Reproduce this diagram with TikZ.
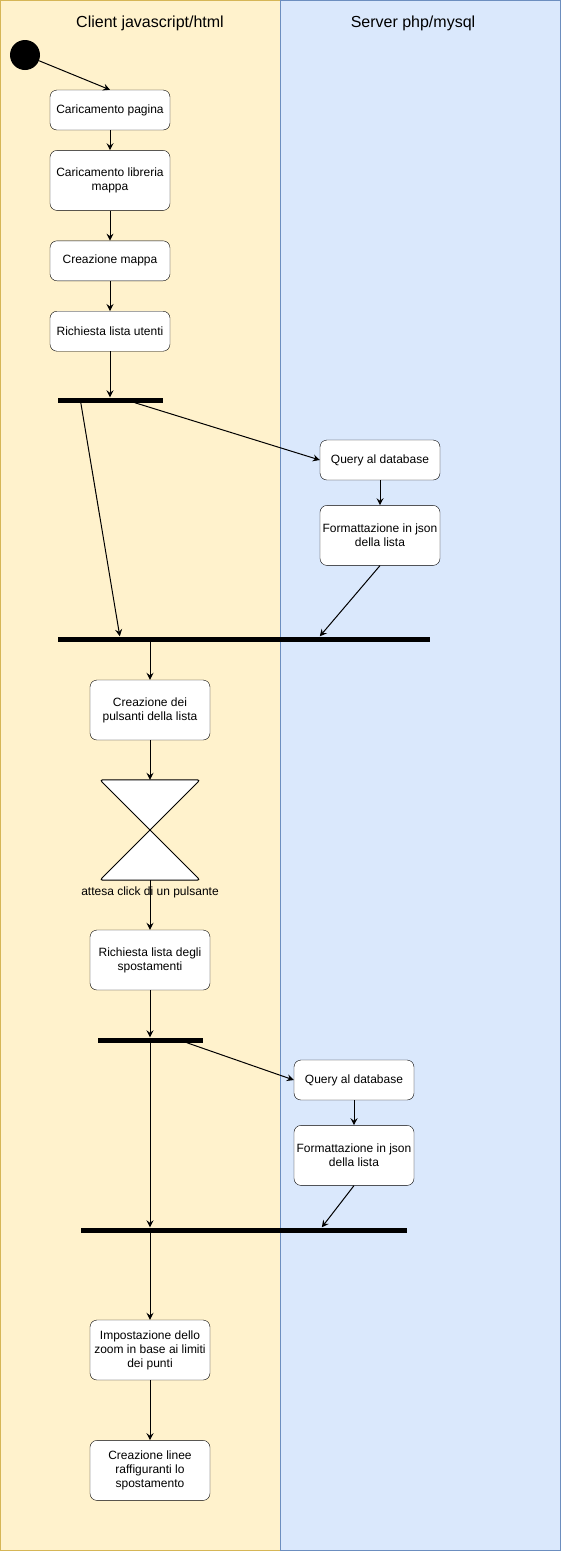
\documentclass[tikz,border=0pt]{standalone}
\usepackage{fontspec}
\setmainfont{Liberation Sans}
\usetikzlibrary{arrows.meta,positioning,calc}

\definecolor{clientfill}{HTML}{FFF2CC}
\definecolor{clientline}{HTML}{D6B656}
\definecolor{serverfill}{HTML}{DAE8FC}
\definecolor{serverline}{HTML}{6C8EBF}

\begin{document}
\begin{tikzpicture}[
    x=1pt,y=-1pt,
    node distance=30pt,
    box/.style={rectangle,draw,fill=white,rounded corners=7pt,minimum width=120pt,minimum height=40pt,align=center,font=\fontsize{12}{14}\selectfont,inner sep=2pt},
    tall/.style={box,minimum height=60pt},
    bar/.style={rectangle,fill=black,inner sep=0pt,minimum height=5pt},
    arrow/.style={-{Stealth[length=7pt,width=7pt,inset=2.5pt]},line width=1pt},
    lane/.style={line width=1pt},
    title/.style={font=\fontsize{16}{18}\selectfont}
]
\useasboundingbox (0,0) rectangle (561,1551);

% Swimlanes
\draw[lane,fill=clientfill,draw=clientline] (0.5,0.5) rectangle (280.5,1550.5);
\draw[lane,fill=serverfill,draw=serverline] (280.5,0.5) rectangle (560.5,1550.5);
\node[title] (clienttitle) at (150,23) {Client javascript/html};
\node[title] (servertitle) at (413,23) {Server php/mysql};

% Start
\node[circle,fill=black,minimum size=30pt,inner sep=0pt] (start) at (25,55) {};

% Page loading
\node[box] (load) at (110,110) {Caricamento pagina};
\node[tall,below=20pt of load] (lib) {Caricamento libreria\\mappa};
\node[box,below=of lib] (map) {Creazione mappa};
\node[box,below=of map] (users) {Richiesta lista utenti};

% First fork and server query
\node[bar,minimum width=105pt] (fork1) at (110.5,400) {};
\node[box] (query1) at (380,460) {Query al database};
\node[tall,below=25pt of query1] (json1) {Formattazione in json\\della lista};
\node[bar,minimum width=372pt] (join1) at (244,639) {};

% Buttons and waiting
\node[tall] (buttons) at (150,710) {Creazione dei\\pulsanti della lista};
\node[minimum width=100pt,minimum height=100pt,inner sep=0pt] (wait) at (150,830) {};
\node[font=\fontsize{12}{14}\selectfont,inner sep=0pt] (waitlabel) at (150,892) {attesa click di un pulsante};
\node[tall] (moves) at (150,960) {Richiesta lista degli\\spostamenti};

% Second fork and server query
\node[bar,minimum width=105pt] (fork2) at (150.5,1040) {};
\node[box] (query2) at (354,1080) {Query al database};
\node[tall,below=25pt of query2] (json2) {Formattazione in json\\della lista};
\node[bar,minimum width=326pt] (join2) at (244,1230) {};

% Drawing on the map
\node[tall] (zoom) at (150,1350) {Impostazione dello\\zoom in base ai limiti\\dei punti};
\node[tall,below=60pt of zoom] (lines) {Creazione linee\\raffiguranti lo\\spostamento};

% Hourglass
\draw[line width=1pt,fill=white,rounded corners=3pt] (wait.north west) -- (wait.north east) -- (wait.south west) -- (wait.south east) -- cycle;

% Arrows
\draw[arrow] (start) -- (load.north);
\draw[arrow] (load) -- (lib);
\draw[arrow] (lib) -- (map);
\draw[arrow] (map) -- (users);
\draw[arrow] (users.south) -- (users.south |- fork1.north);
\draw[arrow] ([xshift=23pt]fork1.south west) -- ([xshift=62pt]join1.north west);
\draw[arrow] ([xshift=77pt]fork1.south west) -- (query1.west);
\draw[arrow] (query1) -- (json1);
\draw[arrow] (json1.south) -- ([xshift=262pt]join1.north west);
\draw[arrow] (join1.south -| buttons.north) -- (buttons.north);
\draw[arrow] (buttons.south) -- (wait.north);
\draw[line width=1pt] (wait.south) -- (waitlabel.south);
\draw[arrow] (waitlabel.south) -- (moves.north);
\draw[arrow] (moves.south) -- (moves.south |- fork2.north);
\draw[arrow] (fork2.south -| moves.south) -- (join2.north -| moves.south);
\draw[arrow] ([xshift=89pt]fork2.south west) -- (query2.west);
\draw[arrow] (query2) -- (json2);
\draw[arrow] (json2.south) -- ([xshift=241pt]join2.north west);
\draw[arrow] (join2.south -| zoom.north) -- (zoom.north);
\draw[arrow] (zoom) -- (lines);

\end{tikzpicture}
\end{document}
